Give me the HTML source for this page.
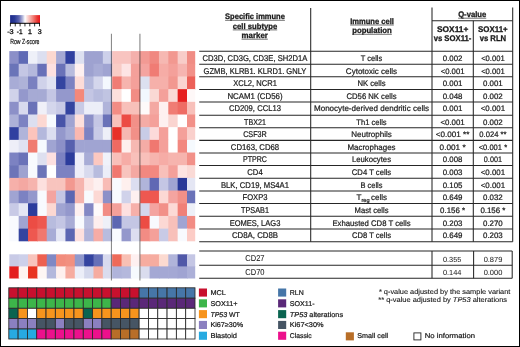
<!DOCTYPE html>
<html><head><meta charset="utf-8"><style>
html,body{margin:0;padding:0;background:#fff;}
#wrap{position:relative;width:520px;height:347px;overflow:hidden;background:#fff;}
#frame{position:absolute;left:0;top:0;width:518px;height:345px;border:1px solid #000;}
svg{position:absolute;left:0;top:0;will-change:transform;}
text{font-family:"Liberation Sans", sans-serif;text-rendering:geometricPrecision;fill:#1a1a1a;stroke:#1a1a1a;stroke-width:0.22px;}
.b{font-weight:bold;stroke-width:0.3px;}
</style></head><body><div id="wrap">
<svg width="520" height="347" viewBox="0 0 520 347">
<defs><linearGradient id="zg" x1="0" x2="1" y1="0" y2="0">
<stop offset="0" stop-color="#1C2A8A"/><stop offset="0.15" stop-color="#2A3A96"/><stop offset="0.3" stop-color="#5D65B0"/><stop offset="0.42" stop-color="#B8BBDD"/><stop offset="0.5" stop-color="#FFFFFF"/><stop offset="0.6" stop-color="#F9D0CC"/><stop offset="0.75" stop-color="#F28880"/><stop offset="0.9" stop-color="#EA3A34"/><stop offset="1" stop-color="#E8141C"/>
</linearGradient></defs>
<!-- colour key -->
<rect x="10.1" y="15.1" width="29.9" height="7.9" fill="url(#zg)"/>
<line x1="10.1" y1="23.3" x2="40" y2="23.3" stroke="#000" stroke-width="1"/>
<line x1="10.40" y1="23" x2="10.40" y2="26.4" stroke="#000" stroke-width="0.8"/><line x1="15.25" y1="23" x2="15.25" y2="26.4" stroke="#000" stroke-width="0.8"/><line x1="20.10" y1="23" x2="20.10" y2="26.4" stroke="#000" stroke-width="0.8"/><line x1="24.95" y1="23" x2="24.95" y2="26.4" stroke="#000" stroke-width="0.8"/><line x1="29.80" y1="23" x2="29.80" y2="26.4" stroke="#000" stroke-width="0.8"/><line x1="34.65" y1="23" x2="34.65" y2="26.4" stroke="#000" stroke-width="0.8"/><line x1="39.50" y1="23" x2="39.50" y2="26.4" stroke="#000" stroke-width="0.8"/>
<text x="10.4" y="34.1" font-size="7" text-anchor="middle" textLength="6.5" lengthAdjust="spacingAndGlyphs" style="stroke-width:0.35px">-3</text>
<text x="19.7" y="34.1" font-size="7" text-anchor="middle" textLength="5.7" lengthAdjust="spacingAndGlyphs" style="stroke-width:0.35px">-1</text>
<text x="29.9" y="34.1" font-size="7" text-anchor="middle" style="stroke-width:0.35px">1</text>
<text x="39.6" y="34.1" font-size="7" text-anchor="middle" style="stroke-width:0.35px">3</text>
<text x="10.2" y="43.5" font-size="7.3" textLength="29.3" lengthAdjust="spacingAndGlyphs">Row Z-score</text>
<rect x="9.33" y="51.10" width="9.95" height="13.28" fill="#8B8FC8"/>
<rect x="18.68" y="51.10" width="9.95" height="13.28" fill="#5F6AB5"/>
<rect x="28.03" y="51.10" width="9.95" height="13.28" fill="#EEF0F8"/>
<rect x="37.38" y="51.10" width="9.95" height="13.28" fill="#DCDFF0"/>
<rect x="46.73" y="51.10" width="9.95" height="13.28" fill="#FCD8D0"/>
<rect x="56.09" y="51.10" width="9.95" height="13.28" fill="#A4A8D4"/>
<rect x="65.44" y="51.10" width="9.95" height="13.28" fill="#3040A0"/>
<rect x="74.79" y="51.10" width="9.95" height="13.28" fill="#DDE0F0"/>
<rect x="84.14" y="51.10" width="9.95" height="13.28" fill="#9EA2D0"/>
<rect x="93.49" y="51.10" width="9.95" height="13.28" fill="#9EA2D0"/>
<rect x="102.84" y="51.10" width="9.95" height="13.28" fill="#CDD0EA"/>
<rect x="112.19" y="51.10" width="9.95" height="13.28" fill="#F8C4C0"/>
<rect x="121.54" y="51.10" width="9.95" height="13.28" fill="#F8C4C0"/>
<rect x="130.89" y="51.10" width="9.95" height="13.28" fill="#F4B0AC"/>
<rect x="140.24" y="51.10" width="9.95" height="13.28" fill="#F29A94"/>
<rect x="149.60" y="51.10" width="9.95" height="13.28" fill="#F08880"/>
<rect x="158.95" y="51.10" width="9.95" height="13.28" fill="#F6B8B2"/>
<rect x="168.30" y="51.10" width="9.95" height="13.28" fill="#F29890"/>
<rect x="177.65" y="51.10" width="9.95" height="13.28" fill="#F8CCC8"/>
<rect x="187.00" y="51.10" width="8.20" height="13.28" fill="#F08C84"/>
<rect x="9.33" y="63.78" width="9.95" height="13.28" fill="#6A74B8"/>
<rect x="18.68" y="63.78" width="9.95" height="13.28" fill="#C4C6E4"/>
<rect x="28.03" y="63.78" width="9.95" height="13.28" fill="#B4B8DC"/>
<rect x="37.38" y="63.78" width="9.95" height="13.28" fill="#6870B8"/>
<rect x="46.73" y="63.78" width="9.95" height="13.28" fill="#FDE0E0"/>
<rect x="56.09" y="63.78" width="9.95" height="13.28" fill="#6A72B8"/>
<rect x="65.44" y="63.78" width="9.95" height="13.28" fill="#B8BCDE"/>
<rect x="74.79" y="63.78" width="9.95" height="13.28" fill="#FEF0F0"/>
<rect x="84.14" y="63.78" width="9.95" height="13.28" fill="#9EA2D0"/>
<rect x="93.49" y="63.78" width="9.95" height="13.28" fill="#A8ACD6"/>
<rect x="102.84" y="63.78" width="9.95" height="13.28" fill="#A0A4D2"/>
<rect x="112.19" y="63.78" width="9.95" height="13.28" fill="#F8CCC6"/>
<rect x="121.54" y="63.78" width="9.95" height="13.28" fill="#FDE4E4"/>
<rect x="130.89" y="63.78" width="9.95" height="13.28" fill="#F4A09A"/>
<rect x="140.24" y="63.78" width="9.95" height="13.28" fill="#F4A4A0"/>
<rect x="149.60" y="63.78" width="9.95" height="13.28" fill="#F07C74"/>
<rect x="158.95" y="63.78" width="9.95" height="13.28" fill="#F6ACA6"/>
<rect x="168.30" y="63.78" width="9.95" height="13.28" fill="#F4A09A"/>
<rect x="177.65" y="63.78" width="9.95" height="13.28" fill="#F6B4B0"/>
<rect x="187.00" y="63.78" width="8.20" height="13.28" fill="#F29088"/>
<rect x="9.33" y="76.46" width="9.95" height="13.28" fill="#A8ACD6"/>
<rect x="18.68" y="76.46" width="9.95" height="13.28" fill="#AEB2D8"/>
<rect x="28.03" y="76.46" width="9.95" height="13.28" fill="#7A80C0"/>
<rect x="37.38" y="76.46" width="9.95" height="13.28" fill="#D0D2EA"/>
<rect x="46.73" y="76.46" width="9.95" height="13.28" fill="#E0E2F2"/>
<rect x="56.09" y="76.46" width="9.95" height="13.28" fill="#3444A0"/>
<rect x="65.44" y="76.46" width="9.95" height="13.28" fill="#7C82C2"/>
<rect x="74.79" y="76.46" width="9.95" height="13.28" fill="#FDDCD8"/>
<rect x="84.14" y="76.46" width="9.95" height="13.28" fill="#B4B8DC"/>
<rect x="93.49" y="76.46" width="9.95" height="13.28" fill="#D4D6EC"/>
<rect x="102.84" y="76.46" width="9.95" height="13.28" fill="#F4F8FE"/>
<rect x="112.19" y="76.46" width="9.95" height="13.28" fill="#F07C74"/>
<rect x="121.54" y="76.46" width="9.95" height="13.28" fill="#F6B4AE"/>
<rect x="130.89" y="76.46" width="9.95" height="13.28" fill="#F4A09A"/>
<rect x="140.24" y="76.46" width="9.95" height="13.28" fill="#DCE0F0"/>
<rect x="149.60" y="76.46" width="9.95" height="13.28" fill="#F6B0AA"/>
<rect x="158.95" y="76.46" width="9.95" height="13.28" fill="#F6B0AA"/>
<rect x="168.30" y="76.46" width="9.95" height="13.28" fill="#F29890"/>
<rect x="177.65" y="76.46" width="9.95" height="13.28" fill="#FAD4D0"/>
<rect x="187.00" y="76.46" width="8.20" height="13.28" fill="#EC6058"/>
<rect x="9.33" y="89.14" width="9.95" height="13.28" fill="#D0D2EA"/>
<rect x="18.68" y="89.14" width="9.95" height="13.28" fill="#9498CC"/>
<rect x="28.03" y="89.14" width="9.95" height="13.28" fill="#A6AAD4"/>
<rect x="37.38" y="89.14" width="9.95" height="13.28" fill="#A6AAD4"/>
<rect x="46.73" y="89.14" width="9.95" height="13.28" fill="#C4C6E4"/>
<rect x="56.09" y="89.14" width="9.95" height="13.28" fill="#9498CC"/>
<rect x="65.44" y="89.14" width="9.95" height="13.28" fill="#9498CC"/>
<rect x="74.79" y="89.14" width="9.95" height="13.28" fill="#F4887A"/>
<rect x="84.14" y="89.14" width="9.95" height="13.28" fill="#C4C6E4"/>
<rect x="93.49" y="89.14" width="9.95" height="13.28" fill="#B8BCDE"/>
<rect x="102.84" y="89.14" width="9.95" height="13.28" fill="#C0C4E2"/>
<rect x="112.19" y="89.14" width="9.95" height="13.28" fill="#FCE0DC"/>
<rect x="121.54" y="89.14" width="9.95" height="13.28" fill="#FFFFFF"/>
<rect x="130.89" y="89.14" width="9.95" height="13.28" fill="#F28C84"/>
<rect x="140.24" y="89.14" width="9.95" height="13.28" fill="#F2F8FE"/>
<rect x="149.60" y="89.14" width="9.95" height="13.28" fill="#FAD8D4"/>
<rect x="158.95" y="89.14" width="9.95" height="13.28" fill="#F4A09A"/>
<rect x="168.30" y="89.14" width="9.95" height="13.28" fill="#FADAD6"/>
<rect x="177.65" y="89.14" width="9.95" height="13.28" fill="#E62020"/>
<rect x="187.00" y="89.14" width="8.20" height="13.28" fill="#FEF8F8"/>
<rect x="9.33" y="101.82" width="9.95" height="13.28" fill="#8C90C8"/>
<rect x="18.68" y="101.82" width="9.95" height="13.28" fill="#D8DAEE"/>
<rect x="28.03" y="101.82" width="9.95" height="13.28" fill="#6A72B8"/>
<rect x="37.38" y="101.82" width="9.95" height="13.28" fill="#F0F0F8"/>
<rect x="46.73" y="101.82" width="9.95" height="13.28" fill="#D4D6EC"/>
<rect x="56.09" y="101.82" width="9.95" height="13.28" fill="#C8CAE6"/>
<rect x="65.44" y="101.82" width="9.95" height="13.28" fill="#3444A0"/>
<rect x="74.79" y="101.82" width="9.95" height="13.28" fill="#C8CAE6"/>
<rect x="84.14" y="101.82" width="9.95" height="13.28" fill="#ECEEF8"/>
<rect x="93.49" y="101.82" width="9.95" height="13.28" fill="#ECEEF8"/>
<rect x="102.84" y="101.82" width="9.95" height="13.28" fill="#B0B4DA"/>
<rect x="112.19" y="101.82" width="9.95" height="13.28" fill="#F28C84"/>
<rect x="121.54" y="101.82" width="9.95" height="13.28" fill="#F8C0BA"/>
<rect x="130.89" y="101.82" width="9.95" height="13.28" fill="#F8C0BA"/>
<rect x="140.24" y="101.82" width="9.95" height="13.28" fill="#FEFAFA"/>
<rect x="149.60" y="101.82" width="9.95" height="13.28" fill="#F4A8A2"/>
<rect x="158.95" y="101.82" width="9.95" height="13.28" fill="#FEF0F0"/>
<rect x="168.30" y="101.82" width="9.95" height="13.28" fill="#F07C74"/>
<rect x="177.65" y="101.82" width="9.95" height="13.28" fill="#EE6C64"/>
<rect x="187.00" y="101.82" width="8.20" height="13.28" fill="#F8C0BA"/>
<rect x="9.33" y="114.50" width="9.95" height="13.28" fill="#ACB0D8"/>
<rect x="18.68" y="114.50" width="9.95" height="13.28" fill="#7C82C2"/>
<rect x="28.03" y="114.50" width="9.95" height="13.28" fill="#DCDFF0"/>
<rect x="37.38" y="114.50" width="9.95" height="13.28" fill="#FCD8D2"/>
<rect x="46.73" y="114.50" width="9.95" height="13.28" fill="#F6FAFE"/>
<rect x="56.09" y="114.50" width="9.95" height="13.28" fill="#4854A8"/>
<rect x="65.44" y="114.50" width="9.95" height="13.28" fill="#A0A4D2"/>
<rect x="74.79" y="114.50" width="9.95" height="13.28" fill="#FDE0DC"/>
<rect x="84.14" y="114.50" width="9.95" height="13.28" fill="#8C90C8"/>
<rect x="93.49" y="114.50" width="9.95" height="13.28" fill="#C4C6E4"/>
<rect x="102.84" y="114.50" width="9.95" height="13.28" fill="#6A72B8"/>
<rect x="112.19" y="114.50" width="9.95" height="13.28" fill="#F8C0BA"/>
<rect x="121.54" y="114.50" width="9.95" height="13.28" fill="#EC4C44"/>
<rect x="130.89" y="114.50" width="9.95" height="13.28" fill="#F29088"/>
<rect x="140.24" y="114.50" width="9.95" height="13.28" fill="#F4ACA6"/>
<rect x="149.60" y="114.50" width="9.95" height="13.28" fill="#F4A09A"/>
<rect x="158.95" y="114.50" width="9.95" height="13.28" fill="#FEF0F0"/>
<rect x="168.30" y="114.50" width="9.95" height="13.28" fill="#FAD4D0"/>
<rect x="177.65" y="114.50" width="9.95" height="13.28" fill="#FFFFFF"/>
<rect x="187.00" y="114.50" width="8.20" height="13.28" fill="#F29088"/>
<rect x="9.33" y="127.18" width="9.95" height="13.28" fill="#3040A0"/>
<rect x="18.68" y="127.18" width="9.95" height="13.28" fill="#B0B4DA"/>
<rect x="28.03" y="127.18" width="9.95" height="13.28" fill="#FCC4BC"/>
<rect x="37.38" y="127.18" width="9.95" height="13.28" fill="#B4B8DC"/>
<rect x="46.73" y="127.18" width="9.95" height="13.28" fill="#DCDEF0"/>
<rect x="56.09" y="127.18" width="9.95" height="13.28" fill="#9498CC"/>
<rect x="65.44" y="127.18" width="9.95" height="13.28" fill="#A8ACD6"/>
<rect x="74.79" y="127.18" width="9.95" height="13.28" fill="#FAB8B0"/>
<rect x="84.14" y="127.18" width="9.95" height="13.28" fill="#7C82C2"/>
<rect x="93.49" y="127.18" width="9.95" height="13.28" fill="#C8CAE6"/>
<rect x="102.84" y="127.18" width="9.95" height="13.28" fill="#EEEFF8"/>
<rect x="112.19" y="127.18" width="9.95" height="13.28" fill="#E83028"/>
<rect x="121.54" y="127.18" width="9.95" height="13.28" fill="#F6B8B2"/>
<rect x="130.89" y="127.18" width="9.95" height="13.28" fill="#F29088"/>
<rect x="140.24" y="127.18" width="9.95" height="13.28" fill="#C8CCE6"/>
<rect x="149.60" y="127.18" width="9.95" height="13.28" fill="#FCDADA"/>
<rect x="158.95" y="127.18" width="9.95" height="13.28" fill="#F4A09A"/>
<rect x="168.30" y="127.18" width="9.95" height="13.28" fill="#FFFFFF"/>
<rect x="177.65" y="127.18" width="9.95" height="13.28" fill="#F4A09A"/>
<rect x="187.00" y="127.18" width="8.20" height="13.28" fill="#FAD0CC"/>
<rect x="9.33" y="139.86" width="9.95" height="13.28" fill="#EEEEF8"/>
<rect x="18.68" y="139.86" width="9.95" height="13.28" fill="#E0E2F2"/>
<rect x="28.03" y="139.86" width="9.95" height="13.28" fill="#F07C70"/>
<rect x="37.38" y="139.86" width="9.95" height="13.28" fill="#F6FAFE"/>
<rect x="46.73" y="139.86" width="9.95" height="13.28" fill="#A0A4D2"/>
<rect x="56.09" y="139.86" width="9.95" height="13.28" fill="#8C90C8"/>
<rect x="65.44" y="139.86" width="9.95" height="13.28" fill="#5660AE"/>
<rect x="74.79" y="139.86" width="9.95" height="13.28" fill="#A0A4D2"/>
<rect x="84.14" y="139.86" width="9.95" height="13.28" fill="#A0A4D2"/>
<rect x="93.49" y="139.86" width="9.95" height="13.28" fill="#A0A4D2"/>
<rect x="102.84" y="139.86" width="9.95" height="13.28" fill="#A0A4D2"/>
<rect x="112.19" y="139.86" width="9.95" height="13.28" fill="#EE6A62"/>
<rect x="121.54" y="139.86" width="9.95" height="13.28" fill="#FEF0EE"/>
<rect x="130.89" y="139.86" width="9.95" height="13.28" fill="#F6B8B2"/>
<rect x="140.24" y="139.86" width="9.95" height="13.28" fill="#F4ACA6"/>
<rect x="149.60" y="139.86" width="9.95" height="13.28" fill="#F07870"/>
<rect x="158.95" y="139.86" width="9.95" height="13.28" fill="#F4A09A"/>
<rect x="168.30" y="139.86" width="9.95" height="13.28" fill="#FFFFFF"/>
<rect x="177.65" y="139.86" width="9.95" height="13.28" fill="#F28880"/>
<rect x="187.00" y="139.86" width="8.20" height="13.28" fill="#F6FAFE"/>
<rect x="9.33" y="152.54" width="9.95" height="13.28" fill="#7C82C2"/>
<rect x="18.68" y="152.54" width="9.95" height="13.28" fill="#6A72B8"/>
<rect x="28.03" y="152.54" width="9.95" height="13.28" fill="#F8FAFE"/>
<rect x="37.38" y="152.54" width="9.95" height="13.28" fill="#DEE0F0"/>
<rect x="46.73" y="152.54" width="9.95" height="13.28" fill="#FDE0E0"/>
<rect x="56.09" y="152.54" width="9.95" height="13.28" fill="#7C82C2"/>
<rect x="65.44" y="152.54" width="9.95" height="13.28" fill="#2C3C9C"/>
<rect x="74.79" y="152.54" width="9.95" height="13.28" fill="#EEEEF8"/>
<rect x="84.14" y="152.54" width="9.95" height="13.28" fill="#A8ACD6"/>
<rect x="93.49" y="152.54" width="9.95" height="13.28" fill="#FCC8C0"/>
<rect x="102.84" y="152.54" width="9.95" height="13.28" fill="#F0F2FA"/>
<rect x="112.19" y="152.54" width="9.95" height="13.28" fill="#F8C0BA"/>
<rect x="121.54" y="152.54" width="9.95" height="13.28" fill="#F6ACA6"/>
<rect x="130.89" y="152.54" width="9.95" height="13.28" fill="#F8C0BA"/>
<rect x="140.24" y="152.54" width="9.95" height="13.28" fill="#F8C0BA"/>
<rect x="149.60" y="152.54" width="9.95" height="13.28" fill="#F6B4AE"/>
<rect x="158.95" y="152.54" width="9.95" height="13.28" fill="#F6ACA6"/>
<rect x="168.30" y="152.54" width="9.95" height="13.28" fill="#F6B4AE"/>
<rect x="177.65" y="152.54" width="9.95" height="13.28" fill="#F6B4AE"/>
<rect x="187.00" y="152.54" width="8.20" height="13.28" fill="#F29088"/>
<rect x="9.33" y="165.22" width="9.95" height="13.28" fill="#6C74B8"/>
<rect x="18.68" y="165.22" width="9.95" height="13.28" fill="#9EA2D0"/>
<rect x="28.03" y="165.22" width="9.95" height="13.28" fill="#F8FAFE"/>
<rect x="37.38" y="165.22" width="9.95" height="13.28" fill="#6C74B8"/>
<rect x="46.73" y="165.22" width="9.95" height="13.28" fill="#FFFFFF"/>
<rect x="56.09" y="165.22" width="9.95" height="13.28" fill="#7C82C2"/>
<rect x="65.44" y="165.22" width="9.95" height="13.28" fill="#7C82C2"/>
<rect x="74.79" y="165.22" width="9.95" height="13.28" fill="#EEEEF8"/>
<rect x="84.14" y="165.22" width="9.95" height="13.28" fill="#D8DAEE"/>
<rect x="93.49" y="165.22" width="9.95" height="13.28" fill="#B8BCDE"/>
<rect x="102.84" y="165.22" width="9.95" height="13.28" fill="#ECEEF8"/>
<rect x="112.19" y="165.22" width="9.95" height="13.28" fill="#F07870"/>
<rect x="121.54" y="165.22" width="9.95" height="13.28" fill="#F8C4BE"/>
<rect x="130.89" y="165.22" width="9.95" height="13.28" fill="#F4A8A2"/>
<rect x="140.24" y="165.22" width="9.95" height="13.28" fill="#F28880"/>
<rect x="149.60" y="165.22" width="9.95" height="13.28" fill="#F28880"/>
<rect x="158.95" y="165.22" width="9.95" height="13.28" fill="#F8C0BA"/>
<rect x="168.30" y="165.22" width="9.95" height="13.28" fill="#F4A09A"/>
<rect x="177.65" y="165.22" width="9.95" height="13.28" fill="#FDE4E2"/>
<rect x="187.00" y="165.22" width="8.20" height="13.28" fill="#FADAD6"/>
<rect x="9.33" y="177.90" width="9.95" height="13.28" fill="#F6B0AA"/>
<rect x="18.68" y="177.90" width="9.95" height="13.28" fill="#F4A8A2"/>
<rect x="28.03" y="177.90" width="9.95" height="13.28" fill="#F6B4AE"/>
<rect x="37.38" y="177.90" width="9.95" height="13.28" fill="#FDE0DE"/>
<rect x="46.73" y="177.90" width="9.95" height="13.28" fill="#F8C4BE"/>
<rect x="56.09" y="177.90" width="9.95" height="13.28" fill="#F8C4BE"/>
<rect x="65.44" y="177.90" width="9.95" height="13.28" fill="#F29890"/>
<rect x="74.79" y="177.90" width="9.95" height="13.28" fill="#F6B4AE"/>
<rect x="84.14" y="177.90" width="9.95" height="13.28" fill="#FDE4E2"/>
<rect x="93.49" y="177.90" width="9.95" height="13.28" fill="#FDF0F0"/>
<rect x="102.84" y="177.90" width="9.95" height="13.28" fill="#F8BCB6"/>
<rect x="112.19" y="177.90" width="9.95" height="13.28" fill="#F8FAFE"/>
<rect x="121.54" y="177.90" width="9.95" height="13.28" fill="#FEF0EE"/>
<rect x="130.89" y="177.90" width="9.95" height="13.28" fill="#DCDEF0"/>
<rect x="140.24" y="177.90" width="9.95" height="13.28" fill="#B0B4DA"/>
<rect x="149.60" y="177.90" width="9.95" height="13.28" fill="#6068B4"/>
<rect x="158.95" y="177.90" width="9.95" height="13.28" fill="#C4C6E4"/>
<rect x="168.30" y="177.90" width="9.95" height="13.28" fill="#A0A4D2"/>
<rect x="177.65" y="177.90" width="9.95" height="13.28" fill="#283898"/>
<rect x="187.00" y="177.90" width="8.20" height="13.28" fill="#E4E6F4"/>
<rect x="9.33" y="190.58" width="9.95" height="13.28" fill="#A0A4D2"/>
<rect x="18.68" y="190.58" width="9.95" height="13.28" fill="#7C82C2"/>
<rect x="28.03" y="190.58" width="9.95" height="13.28" fill="#9498CC"/>
<rect x="37.38" y="190.58" width="9.95" height="13.28" fill="#F8FAFE"/>
<rect x="46.73" y="190.58" width="9.95" height="13.28" fill="#F4A4A0"/>
<rect x="56.09" y="190.58" width="9.95" height="13.28" fill="#C4C6E4"/>
<rect x="65.44" y="190.58" width="9.95" height="13.28" fill="#5C66B2"/>
<rect x="74.79" y="190.58" width="9.95" height="13.28" fill="#F6B4AE"/>
<rect x="84.14" y="190.58" width="9.95" height="13.28" fill="#F8FAFE"/>
<rect x="93.49" y="190.58" width="9.95" height="13.28" fill="#FCD8D4"/>
<rect x="102.84" y="190.58" width="9.95" height="13.28" fill="#8C90C8"/>
<rect x="112.19" y="190.58" width="9.95" height="13.28" fill="#F8FAFE"/>
<rect x="121.54" y="190.58" width="9.95" height="13.28" fill="#D0D2EA"/>
<rect x="130.89" y="190.58" width="9.95" height="13.28" fill="#FEF0F0"/>
<rect x="140.24" y="190.58" width="9.95" height="13.28" fill="#EE5850"/>
<rect x="149.60" y="190.58" width="9.95" height="13.28" fill="#EE5850"/>
<rect x="158.95" y="190.58" width="9.95" height="13.28" fill="#FCD8D4"/>
<rect x="168.30" y="190.58" width="9.95" height="13.28" fill="#F4A4A0"/>
<rect x="177.65" y="190.58" width="9.95" height="13.28" fill="#F29088"/>
<rect x="187.00" y="190.58" width="8.20" height="13.28" fill="#6A72B8"/>
<rect x="9.33" y="203.26" width="9.95" height="13.28" fill="#C8CAE6"/>
<rect x="18.68" y="203.26" width="9.95" height="13.28" fill="#E4E6F4"/>
<rect x="28.03" y="203.26" width="9.95" height="13.28" fill="#2C3C9C"/>
<rect x="37.38" y="203.26" width="9.95" height="13.28" fill="#F8FAFE"/>
<rect x="46.73" y="203.26" width="9.95" height="13.28" fill="#FCD8D2"/>
<rect x="56.09" y="203.26" width="9.95" height="13.28" fill="#A0A4D2"/>
<rect x="65.44" y="203.26" width="9.95" height="13.28" fill="#9498CC"/>
<rect x="74.79" y="203.26" width="9.95" height="13.28" fill="#FEF0F0"/>
<rect x="84.14" y="203.26" width="9.95" height="13.28" fill="#8488C4"/>
<rect x="93.49" y="203.26" width="9.95" height="13.28" fill="#FEFAFA"/>
<rect x="102.84" y="203.26" width="9.95" height="13.28" fill="#F28C84"/>
<rect x="112.19" y="203.26" width="9.95" height="13.28" fill="#F4A09A"/>
<rect x="121.54" y="203.26" width="9.95" height="13.28" fill="#FDE0E0"/>
<rect x="130.89" y="203.26" width="9.95" height="13.28" fill="#F6B0AA"/>
<rect x="140.24" y="203.26" width="9.95" height="13.28" fill="#D4D6EC"/>
<rect x="149.60" y="203.26" width="9.95" height="13.28" fill="#F4A4A0"/>
<rect x="158.95" y="203.26" width="9.95" height="13.28" fill="#F29088"/>
<rect x="168.30" y="203.26" width="9.95" height="13.28" fill="#FCDAD6"/>
<rect x="177.65" y="203.26" width="9.95" height="13.28" fill="#F08078"/>
<rect x="187.00" y="203.26" width="8.20" height="13.28" fill="#EEF0F8"/>
<rect x="9.33" y="215.94" width="9.95" height="13.28" fill="#F8FAFE"/>
<rect x="18.68" y="215.94" width="9.95" height="13.28" fill="#A0A4D2"/>
<rect x="28.03" y="215.94" width="9.95" height="13.28" fill="#EC4C44"/>
<rect x="37.38" y="215.94" width="9.95" height="13.28" fill="#EE5850"/>
<rect x="46.73" y="215.94" width="9.95" height="13.28" fill="#B8BCDE"/>
<rect x="56.09" y="215.94" width="9.95" height="13.28" fill="#C4C6E4"/>
<rect x="65.44" y="215.94" width="9.95" height="13.28" fill="#A8ACD6"/>
<rect x="74.79" y="215.94" width="9.95" height="13.28" fill="#F8FAFE"/>
<rect x="84.14" y="215.94" width="9.95" height="13.28" fill="#B8BCDE"/>
<rect x="93.49" y="215.94" width="9.95" height="13.28" fill="#FDEEEE"/>
<rect x="102.84" y="215.94" width="9.95" height="13.28" fill="#EEF0F8"/>
<rect x="112.19" y="215.94" width="9.95" height="13.28" fill="#5C66B2"/>
<rect x="121.54" y="215.94" width="9.95" height="13.28" fill="#C4C6E4"/>
<rect x="130.89" y="215.94" width="9.95" height="13.28" fill="#C4C6E4"/>
<rect x="140.24" y="215.94" width="9.95" height="13.28" fill="#EC4C44"/>
<rect x="149.60" y="215.94" width="9.95" height="13.28" fill="#F8FAFE"/>
<rect x="158.95" y="215.94" width="9.95" height="13.28" fill="#FCD8D4"/>
<rect x="168.30" y="215.94" width="9.95" height="13.28" fill="#F8C0BA"/>
<rect x="177.65" y="215.94" width="9.95" height="13.28" fill="#A0A4D2"/>
<rect x="187.00" y="215.94" width="8.20" height="13.28" fill="#F28C84"/>
<rect x="9.33" y="228.62" width="9.95" height="12.68" fill="#F8FAFE"/>
<rect x="18.68" y="228.62" width="9.95" height="12.68" fill="#3444A0"/>
<rect x="28.03" y="228.62" width="9.95" height="12.68" fill="#EE5850"/>
<rect x="37.38" y="228.62" width="9.95" height="12.68" fill="#F07870"/>
<rect x="46.73" y="228.62" width="9.95" height="12.68" fill="#A8ACD6"/>
<rect x="56.09" y="228.62" width="9.95" height="12.68" fill="#E4E6F4"/>
<rect x="65.44" y="228.62" width="9.95" height="12.68" fill="#5C66B2"/>
<rect x="74.79" y="228.62" width="9.95" height="12.68" fill="#FDE0DE"/>
<rect x="84.14" y="228.62" width="9.95" height="12.68" fill="#B0B4DA"/>
<rect x="93.49" y="228.62" width="9.95" height="12.68" fill="#F6ACA6"/>
<rect x="102.84" y="228.62" width="9.95" height="12.68" fill="#B8BCDE"/>
<rect x="112.19" y="228.62" width="9.95" height="12.68" fill="#F8FAFE"/>
<rect x="121.54" y="228.62" width="9.95" height="12.68" fill="#9498CC"/>
<rect x="130.89" y="228.62" width="9.95" height="12.68" fill="#DCDEF0"/>
<rect x="140.24" y="228.62" width="9.95" height="12.68" fill="#F28C84"/>
<rect x="149.60" y="228.62" width="9.95" height="12.68" fill="#F4A09A"/>
<rect x="158.95" y="228.62" width="9.95" height="12.68" fill="#C8CAE6"/>
<rect x="168.30" y="228.62" width="9.95" height="12.68" fill="#F8C0BA"/>
<rect x="177.65" y="228.62" width="9.95" height="12.68" fill="#F8FAFE"/>
<rect x="187.00" y="228.62" width="8.20" height="12.68" fill="#FCCCC6"/>
<rect x="9.33" y="254.30" width="9.95" height="12.70" fill="#C8CAE6"/>
<rect x="18.68" y="254.30" width="9.95" height="12.70" fill="#CDD0EA"/>
<rect x="28.03" y="254.30" width="9.95" height="12.70" fill="#F8C4BC"/>
<rect x="37.38" y="254.30" width="9.95" height="12.70" fill="#EE6050"/>
<rect x="46.73" y="254.30" width="9.95" height="12.70" fill="#8088C4"/>
<rect x="56.09" y="254.30" width="9.95" height="12.70" fill="#F28C7C"/>
<rect x="65.44" y="254.30" width="9.95" height="12.70" fill="#F29080"/>
<rect x="74.79" y="254.30" width="9.95" height="12.70" fill="#9098CC"/>
<rect x="84.14" y="254.30" width="9.95" height="12.70" fill="#3444A0"/>
<rect x="93.49" y="254.30" width="9.95" height="12.70" fill="#6670B8"/>
<rect x="102.84" y="254.30" width="9.95" height="12.70" fill="#D8DAEE"/>
<rect x="112.19" y="254.30" width="9.95" height="12.70" fill="#EE6A58"/>
<rect x="121.54" y="254.30" width="9.95" height="12.70" fill="#F8C0B4"/>
<rect x="130.89" y="254.30" width="9.95" height="12.70" fill="#FEF0F0"/>
<rect x="140.24" y="254.30" width="9.95" height="12.70" fill="#F6ACA0"/>
<rect x="149.60" y="254.30" width="9.95" height="12.70" fill="#F6ACA0"/>
<rect x="158.95" y="254.30" width="9.95" height="12.70" fill="#FCDAD0"/>
<rect x="168.30" y="254.30" width="9.95" height="12.70" fill="#B0B4DA"/>
<rect x="177.65" y="254.30" width="9.95" height="12.70" fill="#5058A8"/>
<rect x="187.00" y="254.30" width="8.20" height="12.70" fill="#C4C6E4"/>
<rect x="9.33" y="266.40" width="9.95" height="12.10" fill="#E41E1E"/>
<rect x="18.68" y="266.40" width="9.95" height="12.10" fill="#FEF4F0"/>
<rect x="28.03" y="266.40" width="9.95" height="12.10" fill="#E83420"/>
<rect x="37.38" y="266.40" width="9.95" height="12.10" fill="#FEF6F4"/>
<rect x="46.73" y="266.40" width="9.95" height="12.10" fill="#B4B8DC"/>
<rect x="56.09" y="266.40" width="9.95" height="12.10" fill="#FEF0EE"/>
<rect x="65.44" y="266.40" width="9.95" height="12.10" fill="#F6ACA0"/>
<rect x="74.79" y="266.40" width="9.95" height="12.10" fill="#ECEEF8"/>
<rect x="84.14" y="266.40" width="9.95" height="12.10" fill="#D4D8EC"/>
<rect x="93.49" y="266.40" width="9.95" height="12.10" fill="#F6ACA0"/>
<rect x="102.84" y="266.40" width="9.95" height="12.10" fill="#DADCEE"/>
<rect x="112.19" y="266.40" width="9.95" height="12.10" fill="#B0B4DA"/>
<rect x="121.54" y="266.40" width="9.95" height="12.10" fill="#B4B8DC"/>
<rect x="130.89" y="266.40" width="9.95" height="12.10" fill="#F6FAFE"/>
<rect x="140.24" y="266.40" width="9.95" height="12.10" fill="#DADCEE"/>
<rect x="149.60" y="266.40" width="9.95" height="12.10" fill="#A4A8D4"/>
<rect x="158.95" y="266.40" width="9.95" height="12.10" fill="#A4A8D4"/>
<rect x="168.30" y="266.40" width="9.95" height="12.10" fill="#A4A8D4"/>
<rect x="177.65" y="266.40" width="9.95" height="12.10" fill="#A0A4D2"/>
<rect x="187.00" y="266.40" width="8.20" height="12.10" fill="#ACB0D8"/>
<rect x="8.80" y="287.80" width="9.31" height="10.40" fill="#C8102E" stroke="#2a2a2a" stroke-width="0.85"/>
<rect x="18.11" y="287.80" width="9.31" height="10.40" fill="#C8102E" stroke="#2a2a2a" stroke-width="0.85"/>
<rect x="27.42" y="287.80" width="9.31" height="10.40" fill="#C8102E" stroke="#2a2a2a" stroke-width="0.85"/>
<rect x="36.73" y="287.80" width="9.31" height="10.40" fill="#C8102E" stroke="#2a2a2a" stroke-width="0.85"/>
<rect x="46.04" y="287.80" width="9.31" height="10.40" fill="#C8102E" stroke="#2a2a2a" stroke-width="0.85"/>
<rect x="55.35" y="287.80" width="9.31" height="10.40" fill="#C8102E" stroke="#2a2a2a" stroke-width="0.85"/>
<rect x="64.66" y="287.80" width="9.31" height="10.40" fill="#C8102E" stroke="#2a2a2a" stroke-width="0.85"/>
<rect x="73.97" y="287.80" width="9.31" height="10.40" fill="#C8102E" stroke="#2a2a2a" stroke-width="0.85"/>
<rect x="83.28" y="287.80" width="9.31" height="10.40" fill="#C8102E" stroke="#2a2a2a" stroke-width="0.85"/>
<rect x="92.59" y="287.80" width="9.31" height="10.40" fill="#C8102E" stroke="#2a2a2a" stroke-width="0.85"/>
<rect x="101.90" y="287.80" width="9.31" height="10.40" fill="#C8102E" stroke="#2a2a2a" stroke-width="0.85"/>
<rect x="111.21" y="287.80" width="9.31" height="10.40" fill="#C8102E" stroke="#2a2a2a" stroke-width="0.85"/>
<rect x="120.52" y="287.80" width="9.31" height="10.40" fill="#C8102E" stroke="#2a2a2a" stroke-width="0.85"/>
<rect x="129.83" y="287.80" width="9.31" height="10.40" fill="#C8102E" stroke="#2a2a2a" stroke-width="0.85"/>
<rect x="139.14" y="287.80" width="9.31" height="10.40" fill="#4676A8" stroke="#2a2a2a" stroke-width="0.85"/>
<rect x="148.45" y="287.80" width="9.31" height="10.40" fill="#4676A8" stroke="#2a2a2a" stroke-width="0.85"/>
<rect x="157.76" y="287.80" width="9.31" height="10.40" fill="#4676A8" stroke="#2a2a2a" stroke-width="0.85"/>
<rect x="167.07" y="287.80" width="9.31" height="10.40" fill="#4676A8" stroke="#2a2a2a" stroke-width="0.85"/>
<rect x="176.38" y="287.80" width="9.31" height="10.40" fill="#4676A8" stroke="#2a2a2a" stroke-width="0.85"/>
<rect x="185.69" y="287.80" width="9.31" height="10.40" fill="#4676A8" stroke="#2a2a2a" stroke-width="0.85"/>
<rect x="8.80" y="298.20" width="9.31" height="10.10" fill="#3DB54A" stroke="#2a2a2a" stroke-width="0.85"/>
<rect x="18.11" y="298.20" width="9.31" height="10.10" fill="#3DB54A" stroke="#2a2a2a" stroke-width="0.85"/>
<rect x="27.42" y="298.20" width="9.31" height="10.10" fill="#3DB54A" stroke="#2a2a2a" stroke-width="0.85"/>
<rect x="36.73" y="298.20" width="9.31" height="10.10" fill="#3DB54A" stroke="#2a2a2a" stroke-width="0.85"/>
<rect x="46.04" y="298.20" width="9.31" height="10.10" fill="#3DB54A" stroke="#2a2a2a" stroke-width="0.85"/>
<rect x="55.35" y="298.20" width="9.31" height="10.10" fill="#3DB54A" stroke="#2a2a2a" stroke-width="0.85"/>
<rect x="64.66" y="298.20" width="9.31" height="10.10" fill="#3DB54A" stroke="#2a2a2a" stroke-width="0.85"/>
<rect x="73.97" y="298.20" width="9.31" height="10.10" fill="#3DB54A" stroke="#2a2a2a" stroke-width="0.85"/>
<rect x="83.28" y="298.20" width="9.31" height="10.10" fill="#3DB54A" stroke="#2a2a2a" stroke-width="0.85"/>
<rect x="92.59" y="298.20" width="9.31" height="10.10" fill="#3DB54A" stroke="#2a2a2a" stroke-width="0.85"/>
<rect x="101.90" y="298.20" width="9.31" height="10.10" fill="#3DB54A" stroke="#2a2a2a" stroke-width="0.85"/>
<rect x="111.21" y="298.20" width="9.31" height="10.10" fill="#5A2878" stroke="#2a2a2a" stroke-width="0.85"/>
<rect x="120.52" y="298.20" width="9.31" height="10.10" fill="#5A2878" stroke="#2a2a2a" stroke-width="0.85"/>
<rect x="129.83" y="298.20" width="9.31" height="10.10" fill="#5A2878" stroke="#2a2a2a" stroke-width="0.85"/>
<rect x="139.14" y="298.20" width="9.31" height="10.10" fill="#5A2878" stroke="#2a2a2a" stroke-width="0.85"/>
<rect x="148.45" y="298.20" width="9.31" height="10.10" fill="#5A2878" stroke="#2a2a2a" stroke-width="0.85"/>
<rect x="157.76" y="298.20" width="9.31" height="10.10" fill="#5A2878" stroke="#2a2a2a" stroke-width="0.85"/>
<rect x="167.07" y="298.20" width="9.31" height="10.10" fill="#5A2878" stroke="#2a2a2a" stroke-width="0.85"/>
<rect x="176.38" y="298.20" width="9.31" height="10.10" fill="#5A2878" stroke="#2a2a2a" stroke-width="0.85"/>
<rect x="185.69" y="298.20" width="9.31" height="10.10" fill="#5A2878" stroke="#2a2a2a" stroke-width="0.85"/>
<rect x="8.80" y="308.30" width="9.31" height="10.20" fill="#0A6450" stroke="#2a2a2a" stroke-width="0.85"/>
<rect x="18.11" y="308.30" width="9.31" height="10.20" fill="#F7941D" stroke="#2a2a2a" stroke-width="0.85"/>
<rect x="27.42" y="308.30" width="9.31" height="10.20" fill="#FFFFFF" stroke="#2a2a2a" stroke-width="0.85"/>
<rect x="36.73" y="308.30" width="9.31" height="10.20" fill="#F7941D" stroke="#2a2a2a" stroke-width="0.85"/>
<rect x="46.04" y="308.30" width="9.31" height="10.20" fill="#F7941D" stroke="#2a2a2a" stroke-width="0.85"/>
<rect x="55.35" y="308.30" width="9.31" height="10.20" fill="#F7941D" stroke="#2a2a2a" stroke-width="0.85"/>
<rect x="64.66" y="308.30" width="9.31" height="10.20" fill="#F7941D" stroke="#2a2a2a" stroke-width="0.85"/>
<rect x="73.97" y="308.30" width="9.31" height="10.20" fill="#F7941D" stroke="#2a2a2a" stroke-width="0.85"/>
<rect x="83.28" y="308.30" width="9.31" height="10.20" fill="#0A6450" stroke="#2a2a2a" stroke-width="0.85"/>
<rect x="92.59" y="308.30" width="9.31" height="10.20" fill="#F7941D" stroke="#2a2a2a" stroke-width="0.85"/>
<rect x="101.90" y="308.30" width="9.31" height="10.20" fill="#F7941D" stroke="#2a2a2a" stroke-width="0.85"/>
<rect x="111.21" y="308.30" width="9.31" height="10.20" fill="#F7941D" stroke="#2a2a2a" stroke-width="0.85"/>
<rect x="120.52" y="308.30" width="9.31" height="10.20" fill="#F7941D" stroke="#2a2a2a" stroke-width="0.85"/>
<rect x="129.83" y="308.30" width="9.31" height="10.20" fill="#F7941D" stroke="#2a2a2a" stroke-width="0.85"/>
<rect x="139.14" y="308.30" width="9.31" height="10.20" fill="#FFFFFF" stroke="#2a2a2a" stroke-width="0.85"/>
<rect x="148.45" y="308.30" width="9.31" height="10.20" fill="#FFFFFF" stroke="#2a2a2a" stroke-width="0.85"/>
<rect x="157.76" y="308.30" width="9.31" height="10.20" fill="#FFFFFF" stroke="#2a2a2a" stroke-width="0.85"/>
<rect x="167.07" y="308.30" width="9.31" height="10.20" fill="#FFFFFF" stroke="#2a2a2a" stroke-width="0.85"/>
<rect x="176.38" y="308.30" width="9.31" height="10.20" fill="#FFFFFF" stroke="#2a2a2a" stroke-width="0.85"/>
<rect x="185.69" y="308.30" width="9.31" height="10.20" fill="#FFFFFF" stroke="#2a2a2a" stroke-width="0.85"/>
<rect x="8.80" y="318.50" width="9.31" height="10.50" fill="#8B80C0" stroke="#2a2a2a" stroke-width="0.85"/>
<rect x="18.11" y="318.50" width="9.31" height="10.50" fill="#8B80C0" stroke="#2a2a2a" stroke-width="0.85"/>
<rect x="27.42" y="318.50" width="9.31" height="10.50" fill="#8B80C0" stroke="#2a2a2a" stroke-width="0.85"/>
<rect x="36.73" y="318.50" width="9.31" height="10.50" fill="#465564" stroke="#2a2a2a" stroke-width="0.85"/>
<rect x="46.04" y="318.50" width="9.31" height="10.50" fill="#465564" stroke="#2a2a2a" stroke-width="0.85"/>
<rect x="55.35" y="318.50" width="9.31" height="10.50" fill="#8B80C0" stroke="#2a2a2a" stroke-width="0.85"/>
<rect x="64.66" y="318.50" width="9.31" height="10.50" fill="#465564" stroke="#2a2a2a" stroke-width="0.85"/>
<rect x="73.97" y="318.50" width="9.31" height="10.50" fill="#465564" stroke="#2a2a2a" stroke-width="0.85"/>
<rect x="83.28" y="318.50" width="9.31" height="10.50" fill="#8B80C0" stroke="#2a2a2a" stroke-width="0.85"/>
<rect x="92.59" y="318.50" width="9.31" height="10.50" fill="#8B80C0" stroke="#2a2a2a" stroke-width="0.85"/>
<rect x="101.90" y="318.50" width="9.31" height="10.50" fill="#465564" stroke="#2a2a2a" stroke-width="0.85"/>
<rect x="111.21" y="318.50" width="9.31" height="10.50" fill="#465564" stroke="#2a2a2a" stroke-width="0.85"/>
<rect x="120.52" y="318.50" width="9.31" height="10.50" fill="#465564" stroke="#2a2a2a" stroke-width="0.85"/>
<rect x="129.83" y="318.50" width="9.31" height="10.50" fill="#465564" stroke="#2a2a2a" stroke-width="0.85"/>
<rect x="139.14" y="318.50" width="9.31" height="10.50" fill="#FFFFFF" stroke="#2a2a2a" stroke-width="0.85"/>
<rect x="148.45" y="318.50" width="9.31" height="10.50" fill="#FFFFFF" stroke="#2a2a2a" stroke-width="0.85"/>
<rect x="157.76" y="318.50" width="9.31" height="10.50" fill="#FFFFFF" stroke="#2a2a2a" stroke-width="0.85"/>
<rect x="167.07" y="318.50" width="9.31" height="10.50" fill="#FFFFFF" stroke="#2a2a2a" stroke-width="0.85"/>
<rect x="176.38" y="318.50" width="9.31" height="10.50" fill="#FFFFFF" stroke="#2a2a2a" stroke-width="0.85"/>
<rect x="185.69" y="318.50" width="9.31" height="10.50" fill="#FFFFFF" stroke="#2a2a2a" stroke-width="0.85"/>
<rect x="8.80" y="329.00" width="9.31" height="10.00" fill="#27AAE1" stroke="#2a2a2a" stroke-width="0.85"/>
<rect x="18.11" y="329.00" width="9.31" height="10.00" fill="#27AAE1" stroke="#2a2a2a" stroke-width="0.85"/>
<rect x="27.42" y="329.00" width="9.31" height="10.00" fill="#27AAE1" stroke="#2a2a2a" stroke-width="0.85"/>
<rect x="36.73" y="329.00" width="9.31" height="10.00" fill="#EC108C" stroke="#2a2a2a" stroke-width="0.85"/>
<rect x="46.04" y="329.00" width="9.31" height="10.00" fill="#EC108C" stroke="#2a2a2a" stroke-width="0.85"/>
<rect x="55.35" y="329.00" width="9.31" height="10.00" fill="#EC108C" stroke="#2a2a2a" stroke-width="0.85"/>
<rect x="64.66" y="329.00" width="9.31" height="10.00" fill="#EC108C" stroke="#2a2a2a" stroke-width="0.85"/>
<rect x="73.97" y="329.00" width="9.31" height="10.00" fill="#EC108C" stroke="#2a2a2a" stroke-width="0.85"/>
<rect x="83.28" y="329.00" width="9.31" height="10.00" fill="#EC108C" stroke="#2a2a2a" stroke-width="0.85"/>
<rect x="92.59" y="329.00" width="9.31" height="10.00" fill="#EC108C" stroke="#2a2a2a" stroke-width="0.85"/>
<rect x="101.90" y="329.00" width="9.31" height="10.00" fill="#EC108C" stroke="#2a2a2a" stroke-width="0.85"/>
<rect x="111.21" y="329.00" width="9.31" height="10.00" fill="#B86E28" stroke="#2a2a2a" stroke-width="0.85"/>
<rect x="120.52" y="329.00" width="9.31" height="10.00" fill="#B86E28" stroke="#2a2a2a" stroke-width="0.85"/>
<rect x="129.83" y="329.00" width="9.31" height="10.00" fill="#B86E28" stroke="#2a2a2a" stroke-width="0.85"/>
<rect x="139.14" y="329.00" width="9.31" height="10.00" fill="#FFFFFF" stroke="#2a2a2a" stroke-width="0.85"/>
<rect x="148.45" y="329.00" width="9.31" height="10.00" fill="#FFFFFF" stroke="#2a2a2a" stroke-width="0.85"/>
<rect x="157.76" y="329.00" width="9.31" height="10.00" fill="#FFFFFF" stroke="#2a2a2a" stroke-width="0.85"/>
<rect x="167.07" y="329.00" width="9.31" height="10.00" fill="#FFFFFF" stroke="#2a2a2a" stroke-width="0.85"/>
<rect x="176.38" y="329.00" width="9.31" height="10.00" fill="#FFFFFF" stroke="#2a2a2a" stroke-width="0.85"/>
<rect x="185.69" y="329.00" width="9.31" height="10.00" fill="#FFFFFF" stroke="#2a2a2a" stroke-width="0.85"/>
<text x="255.0" y="60.7" font-size="8.4" text-anchor="middle" textLength="104.8" lengthAdjust="spacingAndGlyphs">CD3D, CD3G, CD3E, SH2D1A</text>
<text x="371.5" y="60.7" font-size="8.1" text-anchor="middle" textLength="21.4" lengthAdjust="spacingAndGlyphs">T cells</text>
<text x="452.6" y="60.7" font-size="7.9" text-anchor="middle" textLength="19.7" lengthAdjust="spacingAndGlyphs">0.002</text>
<text x="492.9" y="60.7" font-size="7.9" text-anchor="middle" textLength="23.5" lengthAdjust="spacingAndGlyphs">&lt;0.001</text>
<text x="255.0" y="73.6" font-size="8.4" text-anchor="middle" textLength="102.8" lengthAdjust="spacingAndGlyphs">GZMB, KLRB1. KLRD1. GNLY</text>
<text x="371.5" y="73.6" font-size="8.1" text-anchor="middle" textLength="51.3" lengthAdjust="spacingAndGlyphs">Cytotoxic cells</text>
<text x="452.6" y="73.6" font-size="7.9" text-anchor="middle" textLength="23.8" lengthAdjust="spacingAndGlyphs">&lt;0.001</text>
<text x="492.9" y="73.6" font-size="7.9" text-anchor="middle" textLength="23.5" lengthAdjust="spacingAndGlyphs">&lt;0.001</text>
<text x="255.0" y="86.1" font-size="8.4" text-anchor="middle" textLength="43.7" lengthAdjust="spacingAndGlyphs">XCL2, NCR1</text>
<text x="371.5" y="86.1" font-size="8.1" text-anchor="middle" textLength="28.1" lengthAdjust="spacingAndGlyphs">NK cells</text>
<text x="452.6" y="86.1" font-size="7.9" text-anchor="middle">0.001</text>
<text x="492.9" y="86.1" font-size="7.9" text-anchor="middle">0.001</text>
<text x="255.0" y="98.8" font-size="8.4" text-anchor="middle" textLength="55.1" lengthAdjust="spacingAndGlyphs">NCAM1 (CD56)</text>
<text x="371.5" y="98.8" font-size="8.1" text-anchor="middle" textLength="50.0" lengthAdjust="spacingAndGlyphs">CD56 NK cells</text>
<text x="452.6" y="98.8" font-size="7.9" text-anchor="middle">0.048</text>
<text x="492.9" y="98.8" font-size="7.9" text-anchor="middle">0.002</text>
<text x="255.0" y="111.4" font-size="8.4" text-anchor="middle" textLength="52.0" lengthAdjust="spacingAndGlyphs">CD209, CCL13</text>
<text x="371.5" y="111.4" font-size="8.1" text-anchor="middle" textLength="115.1" lengthAdjust="spacingAndGlyphs">Monocyte-derived dendritic cells</text>
<text x="452.6" y="111.4" font-size="7.9" text-anchor="middle">0.001</text>
<text x="492.9" y="111.4" font-size="7.9" text-anchor="middle">&lt;0.001</text>
<text x="255.0" y="124.6" font-size="8.4" text-anchor="middle" textLength="21.8" lengthAdjust="spacingAndGlyphs">TBX21</text>
<text x="371.5" y="124.6" font-size="8.1" text-anchor="middle" textLength="30.3" lengthAdjust="spacingAndGlyphs">Th1 cells</text>
<text x="452.6" y="124.6" font-size="7.9" text-anchor="middle">&lt;0.001</text>
<text x="492.9" y="124.6" font-size="7.9" text-anchor="middle">0.002</text>
<text x="255.0" y="137.2" font-size="8.4" text-anchor="middle" textLength="23.7" lengthAdjust="spacingAndGlyphs">CSF3R</text>
<text x="371.5" y="137.2" font-size="8.1" text-anchor="middle" textLength="40.6" lengthAdjust="spacingAndGlyphs">Neutrophils</text>
<text x="452.6" y="137.2" font-size="7.9" text-anchor="middle" textLength="33.6" lengthAdjust="spacingAndGlyphs">&lt;0.001 **</text>
<text x="492.9" y="137.2" font-size="7.9" text-anchor="middle" textLength="27.1" lengthAdjust="spacingAndGlyphs">0.024 **</text>
<text x="255.0" y="149.8" font-size="8.4" text-anchor="middle" textLength="48.4" lengthAdjust="spacingAndGlyphs">CD163, CD68</text>
<text x="371.5" y="149.8" font-size="8.1" text-anchor="middle" textLength="48.1" lengthAdjust="spacingAndGlyphs">Macrophages</text>
<text x="452.6" y="149.8" font-size="7.9" text-anchor="middle" textLength="26.0" lengthAdjust="spacingAndGlyphs">0.001 *</text>
<text x="492.9" y="149.8" font-size="7.9" text-anchor="middle" textLength="28.4" lengthAdjust="spacingAndGlyphs">&lt;0.001 *</text>
<text x="255.0" y="162.4" font-size="8.4" text-anchor="middle" textLength="23.9" lengthAdjust="spacingAndGlyphs">PTPRC</text>
<text x="371.5" y="162.4" font-size="8.1" text-anchor="middle" textLength="39.1" lengthAdjust="spacingAndGlyphs">Leukocytes</text>
<text x="452.6" y="162.4" font-size="7.9" text-anchor="middle" textLength="19.6" lengthAdjust="spacingAndGlyphs">0.008</text>
<text x="492.9" y="162.4" font-size="7.9" text-anchor="middle" textLength="18.1" lengthAdjust="spacingAndGlyphs">0.001</text>
<text x="255.0" y="174.8" font-size="8.4" text-anchor="middle" textLength="15.4" lengthAdjust="spacingAndGlyphs">CD4</text>
<text x="371.5" y="174.8" font-size="8.1" text-anchor="middle" textLength="39.4" lengthAdjust="spacingAndGlyphs">CD4 T cells</text>
<text x="452.6" y="174.8" font-size="7.9" text-anchor="middle">0.003</text>
<text x="492.9" y="174.8" font-size="7.9" text-anchor="middle">&lt;0.001</text>
<text x="255.0" y="187.7" font-size="8.4" text-anchor="middle" textLength="68.1" lengthAdjust="spacingAndGlyphs">BLK, CD19, MS4A1</text>
<text x="371.5" y="187.7" font-size="8.1" text-anchor="middle" textLength="21.9" lengthAdjust="spacingAndGlyphs">B cells</text>
<text x="452.6" y="187.7" font-size="7.9" text-anchor="middle">0.105</text>
<text x="492.9" y="187.7" font-size="7.9" text-anchor="middle">&lt;0.001</text>
<text x="255.0" y="200.3" font-size="8.4" text-anchor="middle" textLength="25.0" lengthAdjust="spacingAndGlyphs">FOXP3</text>
<text x="356.5" y="200.3" font-size="8.1">T<tspan font-size="5.6" dy="1.9">reg</tspan><tspan dy="-1.9" dx="1.4" textLength="16" lengthAdjust="spacingAndGlyphs">cells</tspan></text>
<text x="452.6" y="200.3" font-size="7.9" text-anchor="middle">0.649</text>
<text x="492.9" y="200.3" font-size="7.9" text-anchor="middle">0.032</text>
<text x="255.0" y="212.8" font-size="8.4" text-anchor="middle" textLength="27.9" lengthAdjust="spacingAndGlyphs">TPSAB1</text>
<text x="371.5" y="212.8" font-size="8.1" text-anchor="middle" textLength="33.9" lengthAdjust="spacingAndGlyphs">Mast cells</text>
<text x="452.6" y="212.8" font-size="7.9" text-anchor="middle">0.156 *</text>
<text x="492.9" y="212.8" font-size="7.9" text-anchor="middle">0.156 *</text>
<text x="255.0" y="225.7" font-size="8.4" text-anchor="middle" textLength="50.7" lengthAdjust="spacingAndGlyphs">EOMES, LAG3</text>
<text x="371.5" y="225.7" font-size="8.1" text-anchor="middle" textLength="78.2" lengthAdjust="spacingAndGlyphs">Exhausted CD8 T cells</text>
<text x="452.6" y="225.7" font-size="7.9" text-anchor="middle">0.203</text>
<text x="492.9" y="225.7" font-size="7.9" text-anchor="middle">0.270</text>
<text x="255.0" y="238.3" font-size="8.4" text-anchor="middle" textLength="46.2" lengthAdjust="spacingAndGlyphs">CD8A, CD8B</text>
<text x="371.5" y="238.3" font-size="8.1" text-anchor="middle" textLength="39.1" lengthAdjust="spacingAndGlyphs">CD8 T cells</text>
<text x="452.6" y="238.3" font-size="7.9" text-anchor="middle">0.649</text>
<text x="492.9" y="238.3" font-size="7.9" text-anchor="middle">0.203</text>
<line x1="199.20" y1="51.30" x2="512.70" y2="51.30" stroke="#262626" stroke-width="1.05"/>
<line x1="199.20" y1="64.20" x2="512.70" y2="64.20" stroke="#262626" stroke-width="1.05"/>
<line x1="199.20" y1="76.70" x2="512.70" y2="76.70" stroke="#262626" stroke-width="1.05"/>
<line x1="199.20" y1="89.40" x2="512.70" y2="89.40" stroke="#262626" stroke-width="1.05"/>
<line x1="199.20" y1="102.00" x2="512.70" y2="102.00" stroke="#262626" stroke-width="1.05"/>
<line x1="199.20" y1="115.20" x2="512.70" y2="115.20" stroke="#262626" stroke-width="1.05"/>
<line x1="199.20" y1="127.80" x2="512.70" y2="127.80" stroke="#262626" stroke-width="1.05"/>
<line x1="199.20" y1="140.35" x2="512.70" y2="140.35" stroke="#262626" stroke-width="1.05"/>
<line x1="199.20" y1="153.00" x2="512.70" y2="153.00" stroke="#262626" stroke-width="1.05"/>
<line x1="199.20" y1="165.45" x2="512.70" y2="165.45" stroke="#262626" stroke-width="1.05"/>
<line x1="199.20" y1="178.30" x2="512.70" y2="178.30" stroke="#262626" stroke-width="1.05"/>
<line x1="199.20" y1="190.95" x2="512.70" y2="190.95" stroke="#262626" stroke-width="1.05"/>
<line x1="199.20" y1="203.45" x2="512.70" y2="203.45" stroke="#262626" stroke-width="1.05"/>
<line x1="199.20" y1="216.30" x2="512.70" y2="216.30" stroke="#262626" stroke-width="1.05"/>
<line x1="199.20" y1="228.95" x2="512.70" y2="228.95" stroke="#262626" stroke-width="1.05"/>
<line x1="199.20" y1="241.65" x2="512.70" y2="241.65" stroke="#262626" stroke-width="1.05"/>
<line x1="310.70" y1="8.00" x2="310.70" y2="241.65" stroke="#262626" stroke-width="1.05"/>
<line x1="432.00" y1="7.60" x2="432.00" y2="241.65" stroke="#262626" stroke-width="1.05"/>
<line x1="512.70" y1="7.60" x2="512.70" y2="241.65" stroke="#262626" stroke-width="1.05"/>
<line x1="473.30" y1="20.70" x2="473.30" y2="241.65" stroke="#262626" stroke-width="1.05"/>
<line x1="432.00" y1="20.70" x2="512.70" y2="20.70" stroke="#262626" stroke-width="1.05"/>
<text x="255.0" y="19.0" font-size="8.1" text-anchor="middle" textLength="59.8" lengthAdjust="spacingAndGlyphs" class="b">Specific immune</text>
<line x1="225.10" y1="20.30" x2="284.90" y2="20.30" stroke="#333" stroke-width="0.7"/>
<text x="255.0" y="28.6" font-size="8.1" text-anchor="middle" textLength="44.4" lengthAdjust="spacingAndGlyphs" class="b">cell subtype</text>
<line x1="232.80" y1="29.90" x2="277.20" y2="29.90" stroke="#333" stroke-width="0.7"/>
<text x="254.7" y="37.9" font-size="8.1" text-anchor="middle" textLength="26.3" lengthAdjust="spacingAndGlyphs" class="b">marker</text>
<line x1="241.55" y1="39.20" x2="267.85" y2="39.20" stroke="#333" stroke-width="0.7"/>
<text x="372.0" y="23.7" font-size="8.1" text-anchor="middle" textLength="43.7" lengthAdjust="spacingAndGlyphs" class="b">Immune cell</text>
<line x1="350.15" y1="25.00" x2="393.85" y2="25.00" stroke="#333" stroke-width="0.7"/>
<text x="372.0" y="33.0" font-size="8.1" text-anchor="middle" textLength="39.7" lengthAdjust="spacingAndGlyphs" class="b">population</text>
<line x1="352.15" y1="34.30" x2="391.85" y2="34.30" stroke="#333" stroke-width="0.7"/>
<text x="472.2" y="16.9" font-size="8.1" text-anchor="middle" textLength="28.1" lengthAdjust="spacingAndGlyphs" class="b">Q-value</text>
<line x1="458.15" y1="18.20" x2="486.25" y2="18.20" stroke="#333" stroke-width="0.7"/>
<text x="452.7" y="31.8" font-size="8.3" text-anchor="middle" textLength="31.4" lengthAdjust="spacingAndGlyphs" class="b">SOX11+</text>
<text x="452.5" y="41.0" font-size="8.3" text-anchor="middle" textLength="37.7" lengthAdjust="spacingAndGlyphs" class="b">vs SOX11-</text>
<text x="492.9" y="31.8" font-size="8.3" text-anchor="middle" textLength="29.7" lengthAdjust="spacingAndGlyphs" class="b">SOX11+</text>
<text x="492.9" y="41.0" font-size="8.3" text-anchor="middle" textLength="26.5" lengthAdjust="spacingAndGlyphs" class="b">vs RLN</text>
<line x1="199.20" y1="251.00" x2="512.20" y2="251.00" stroke="#262626" stroke-width="1.05"/>
<line x1="199.20" y1="265.30" x2="512.20" y2="265.30" stroke="#262626" stroke-width="1.05"/>
<line x1="199.20" y1="278.20" x2="512.20" y2="278.20" stroke="#262626" stroke-width="1.05"/>
<line x1="432.00" y1="251.00" x2="432.00" y2="278.20" stroke="#262626" stroke-width="1.05"/>
<line x1="473.60" y1="251.00" x2="473.60" y2="278.20" stroke="#262626" stroke-width="1.05"/>
<line x1="512.20" y1="251.00" x2="512.20" y2="278.20" stroke="#262626" stroke-width="1.05"/>
<text x="254.9" y="261.3" font-size="8.5" text-anchor="middle" textLength="19.2" lengthAdjust="spacingAndGlyphs" style="stroke-width:0.08px">CD27</text>
<text x="254.9" y="275.2" font-size="8.5" text-anchor="middle" textLength="19.2" lengthAdjust="spacingAndGlyphs" style="stroke-width:0.08px">CD70</text>
<text x="452.2" y="262.2" font-size="7.4" text-anchor="middle" textLength="18.5" lengthAdjust="spacingAndGlyphs" style="stroke-width:0.02px">0.355</text>
<text x="493.0" y="262.2" font-size="7.4" text-anchor="middle" textLength="18.7" lengthAdjust="spacingAndGlyphs" style="stroke-width:0.02px">0.879</text>
<text x="452.2" y="275.4" font-size="7.4" text-anchor="middle" textLength="18.5" lengthAdjust="spacingAndGlyphs" style="stroke-width:0.02px">0.144</text>
<text x="493.0" y="275.4" font-size="7.4" text-anchor="middle" textLength="18.7" lengthAdjust="spacingAndGlyphs" style="stroke-width:0.02px">0.000</text>
<rect x="198.9" y="288.5" width="8.1" height="8.1" fill="#C8102E"/>
<text x="210.4" y="295.0" font-size="7" textLength="15.4" lengthAdjust="spacingAndGlyphs">MCL</text>
<rect x="198.9" y="299.3" width="8.1" height="8.1" fill="#3DB54A"/>
<text x="210.4" y="305.8" font-size="7" textLength="27.1" lengthAdjust="spacingAndGlyphs">SOX11+</text>
<rect x="198.9" y="310.1" width="8.1" height="8.1" fill="#F7941D"/>
<text x="210.4" y="316.6" font-size="7" textLength="29.4" lengthAdjust="spacingAndGlyphs"><tspan font-style="italic">TP53</tspan> WT</text>
<rect x="198.9" y="320.9" width="8.1" height="8.1" fill="#8B80C0"/>
<text x="210.4" y="327.4" font-size="7" textLength="32.7" lengthAdjust="spacingAndGlyphs">Ki67≥30%</text>
<rect x="198.9" y="331.7" width="8.1" height="8.1" fill="#27AAE1"/>
<text x="210.4" y="338.2" font-size="7" textLength="26.6" lengthAdjust="spacingAndGlyphs">Blastoid</text>
<rect x="278.1" y="288.5" width="8.1" height="8.1" fill="#4676A8"/>
<text x="289.8" y="295.0" font-size="7" textLength="13.9" lengthAdjust="spacingAndGlyphs">RLN</text>
<rect x="278.1" y="299.3" width="8.1" height="8.1" fill="#5A2878"/>
<text x="289.8" y="305.8" font-size="7" textLength="24.8" lengthAdjust="spacingAndGlyphs">SOX11-</text>
<rect x="278.1" y="310.1" width="8.1" height="8.1" fill="#0A6450"/>
<text x="289.8" y="316.6" font-size="7" textLength="53.3" lengthAdjust="spacingAndGlyphs"><tspan font-style="italic">TP53</tspan> alterations</text>
<rect x="278.1" y="320.9" width="8.1" height="8.1" fill="#465564"/>
<text x="289.8" y="327.4" font-size="7" textLength="33.7" lengthAdjust="spacingAndGlyphs">Ki67&lt;30%</text>
<rect x="278.1" y="331.7" width="8.1" height="8.1" fill="#EC108C"/>
<text x="289.8" y="338.2" font-size="7" textLength="21.9" lengthAdjust="spacingAndGlyphs">Classic</text>
<rect x="345.8" y="332.3" width="8.1" height="8.1" fill="#B86E28"/>
<text x="357.3" y="338.3" font-size="7" textLength="30.8" lengthAdjust="spacingAndGlyphs">Small cell</text>
<rect x="413.9" y="332.9" width="7.0" height="7.0" fill="#fff" stroke="#222" stroke-width="0.9"/>
<text x="424.8" y="338.3" font-size="7" textLength="50.2" lengthAdjust="spacingAndGlyphs">No information</text>
<text x="378.9" y="293.8" font-size="7" textLength="131.5" lengthAdjust="spacingAndGlyphs" style="stroke-width:0.12px">* q-value adjusted by the sample variant</text>
<text x="378.3" y="301.8" font-size="7" textLength="128.8" lengthAdjust="spacingAndGlyphs" style="stroke-width:0.12px">** q-value adjusted by <tspan font-style="italic">TP53</tspan> alterations</text>
<line x1="111.45" y1="33.8" x2="111.45" y2="280.6" stroke="#000" stroke-opacity="0.45" stroke-width="1.1"/>
<line x1="139.9" y1="33.8" x2="139.9" y2="280.6" stroke="#000" stroke-opacity="0.38" stroke-width="1.4"/>
</svg>
<div id="frame"></div>
</div></body></html>
